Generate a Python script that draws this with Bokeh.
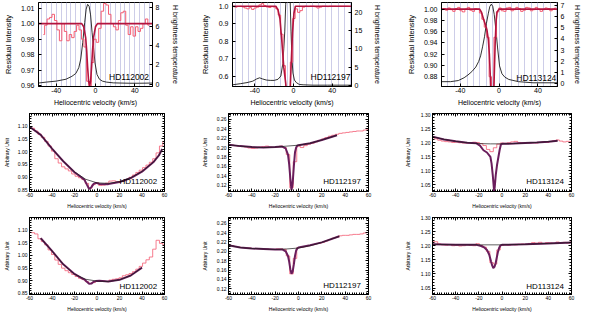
from bokeh.plotting import figure
from bokeh.models import (Range1d, LinearAxis, Label, FixedTicker, SingleIntervalTicker,
                          NumeralTickFormatter, CustomJSTickFormatter)
from bokeh.layouts import row, column
from bokeh.embed import file_html
from bokeh.resources import INLINE

FONT = "Liberation Sans"
RED = "#f45c72"
FIT_TOP = "#b3143f"
PURPLE = "#6a1d5c"
BLACK = "#1a1a1a"
GRID = "#cdcde8"

# ---------------- top row: residual intensity + HI brightness temperature -------------
names = ["HD112002", "HD112197", "HD113124"]
top_xticks = [-40, 0, 40]

t1_red_v = [-53, -50.5, -48, -45.5, -43, -40.5, -38, -35.5, -33, -30.5, -28, -25.5, -23, -20.5,
            -18, -15.5, -13, -10.5, -8, -5.5, -3, -0.5, 2, 4.5, 7, 9.5, 12, 14.5, 17, 19.5, 22,
            24.5, 27, 29.5, 32, 34.5, 37, 39.5, 42, 44.5, 47, 49.5, 52, 54.5]
t1_red_i = [0.993, 0.999, 1.003, 1.004, 1.006, 1.002, 0.996, 0.989, 1.000, 0.995, 0.989, 0.993,
            0.991, 0.995, 0.999, 0.996, 0.990, 0.985, 0.963, 0.960, 0.975, 0.990, 0.988, 0.997,
            1.008, 1.013, 1.012, 1.006, 1.000, 0.998, 0.996, 1.002, 1.007, 1.008, 0.999, 0.993,
            0.998, 0.992, 0.998, 0.995, 0.997, 1.000, 1.003, 0.999]
t1_fit_v = [-58, -14, -12, -10, -9, -8, -7, -6, -5, -4, -3, -2, 0, 2, 58]
t1_fit_i = [1.0, 1.0, 0.998, 0.991, 0.983, 0.972, 0.963, 0.960, 0.963, 0.972, 0.983, 0.991, 0.998, 1.0, 1.0]
t1_hi_v = [-58, -50, -40, -30, -24, -20, -17, -15, -13, -11, -9.5, -8, -6.5, -5, -3.5, -2, -0.5,
           1.5, 4, 7, 11, 18, 25, 35, 45, 58]
t1_hi_t = [0.1, 0.2, 0.3, 0.5, 0.8, 1.1, 1.7, 2.6, 4.3, 6.4, 7.8, 8.3, 8.1, 7.2, 5.4, 3.8, 2.2,
           1.0, 0.5, 0.3, 0.2, 0.12, 0.1, 0.08, 0.08, 0.1]
t1_yticks = [0.96, 0.97, 0.98, 0.99, 1.00, 1.01]
t1_tticks = [0, 2, 4, 6, 8]

t2_red_v = [-62, -59.5, -57, -54.5, -52, -49.5, -47, -44.5, -42, -39.5, -37, -34.5, -32, -29.5,
            -27, -24.5, -22, -19.5, -17, -14.5, -12, -9.5, -7, -4.5, -2, 0.5, 3, 5.5, 8, 10.5,
            13, 15.5, 18, 20.5, 23, 25.5, 28, 30.5, 33, 35.5, 38, 40.5, 43, 45.5, 48, 50.5, 53,
            55.5, 58]
t2_red_i = [0.998, 0.995, 0.999, 1.000, 0.996, 0.990, 0.985, 0.992, 0.982, 0.990, 0.995, 1.008,
            1.015, 1.004, 0.996, 0.993, 0.998, 0.995, 0.985, 0.950, 0.840, 0.660, 0.500, 0.450,
            0.680, 0.930, 0.985, 0.965, 0.975, 0.995, 1.000, 0.998, 1.000, 1.000, 0.997, 0.990,
            0.995, 1.000, 1.000, 0.998, 1.000, 1.000, 1.000, 0.999, 1.000, 1.000, 1.000, 1.000, 1.000]
t2_fit_v = [-63, -18, -16, -14, -12, -10, -8, -7, -5, -3.5, -2.5, -1, 0.5, 2, 60]
t2_fit_i = [1.0, 1.0, 0.98, 0.93, 0.80, 0.65, 0.56, 0.50, 0.40, 0.50, 0.65, 0.85, 0.96, 1.0, 1.0]
t2_hi_v = [-63, -55, -48, -42, -38, -35, -32, -28, -24, -20, -16, -13, -11, -10, -9, -8, -7, -5,
           -3.5, -2.5, -1.5, -0.5, 1, 3, 6, 10, 20, 35, 60]
t2_hi_t = [0.2, 0.5, 0.8, 1.2, 1.8, 2.1, 1.8, 1.5, 1.4, 1.4, 1.7, 2.6, 6.0, 10, 14.6, 22, 28, 30,
           24, 14.6, 7, 3.4, 1.5, 0.8, 0.3, 0.2, 0.1, 0.1, 0.1]
t2_yticks = [0.6, 0.7, 0.8, 0.9, 1.0]
t2_tticks = [0, 5, 10, 15, 20]

t3_red_v = [-59, -56.5, -54, -51.5, -49, -46.5, -44, -41.5, -39, -36.5, -34, -31.5, -29, -26.5,
            -24, -21.5, -19, -16.5, -14, -11.5, -9, -6.5, -4, -1.5, 1, 3.5, 6, 8.5, 11, 13.5, 16,
            18.5, 21, 23.5, 26, 28.5, 31, 33.5, 36, 38.5, 41, 43.5, 46, 48.5, 51, 53.5, 56, 58.5]
t3_red_i = [0.999, 1.001, 0.998, 1.002, 0.999, 0.996, 1.001, 1.003, 0.997, 0.995, 1.000, 1.003,
            0.998, 0.996, 1.001, 1.000, 0.993, 0.982, 0.968, 0.950, 0.880, 0.840, 0.950, 0.995,
            1.002, 0.997, 0.996, 1.002, 1.003, 0.997, 0.999, 1.003, 1.001, 0.996, 0.998, 1.003,
            1.002, 0.997, 0.999, 1.003, 1.000, 0.996, 0.999, 1.002, 1.001, 0.997, 1.000, 1.002]
t3_fit_v = [-60, -20, -18, -16, -14, -12.5, -11, -10, -9, -8, -7, -6, -5, -4, -3, -2, 0, 60]
t3_fit_i = [1.0, 1.0, 0.994, 0.982, 0.972, 0.963, 0.945, 0.92, 0.88, 0.83, 0.80, 0.83, 0.88,
            0.94, 0.98, 0.995, 1.0, 1.0]
t3_hi_v = [-59, -50, -42, -36, -32, -28, -24, -21, -19, -17, -15, -13, -11, -9.5, -8, -6.5, -5,
           -3, -1.5, 0.5, 3, 6, 10, 20, 35, 60]
t3_hi_t = [0.2, 0.2, 0.3, 0.55, 0.8, 1.1, 1.5, 2.0, 2.5, 3.3, 4.2, 5.4, 6.3, 6.9, 7.1, 6.9, 6.2,
           4.6, 3.2, 1.6, 0.9, 0.6, 0.4, 0.2, 0.1, 0.1]
t3_yticks = [0.88, 0.90, 0.92, 0.94, 0.96, 0.98, 1.00]
t3_tticks = [0, 1, 2, 3, 4, 5, 6, 7]

# ---------------- middle / bottom rows: spectra in arbitrary units -------------
chan_v = [-60, -57, -54, -51, -48, -45, -42, -39, -36, -33, -30, -27, -24, -21, -18, -15, -12,
          -9, -6, -3, 0, 3, 6, 9, 12, 15, 18, 21, 24, 27, 30, 33, 36, 39, 42, 45, 48, 51, 54, 57, 60]

m1_red = [1.093, 1.092, 1.081, 1.068, 1.056, 1.040, 1.022, 1.002, 0.972, 0.955, 0.940, 0.932,
          0.924, 0.912, 0.903, 0.897, 0.890, 0.875, 0.856, 0.870, 0.878, 0.867, 0.868, 0.876,
          0.884, 0.885, 0.882, 0.882, 0.884, 0.890, 0.899, 0.908, 0.918, 0.927, 0.937, 0.947,
          0.958, 0.972, 0.995, 1.022, 1.040]
m1_fit_v = [-60, -50, -40, -30, -20, -14, -11, -9, -7, -5, -3, -1, 2, 10, 20, 30, 40, 50, 55, 58]
m1_fit_i = [1.098, 1.066, 1.012, 0.962, 0.919, 0.899, 0.888, 0.870, 0.853, 0.860, 0.873, 0.877,
            0.873, 0.872, 0.880, 0.896, 0.921, 0.958, 0.985, 1.010]
m1_cont_v = [-60, -50, -40, -30, -20, -10, 0, 10, 20, 30, 40, 50, 55, 58]
m1_cont_i = [1.098, 1.066, 1.012, 0.962, 0.920, 0.891, 0.877, 0.875, 0.882, 0.897, 0.922, 0.958,
             0.985, 1.010]

b1_red = [1.092, 1.090, 1.085, 1.066, 1.055, 1.042, 1.022, 1.004, 0.982, 0.965, 0.950, 0.940,
          0.932, 0.925, 0.917, 0.910, 0.905, 0.897, 0.890, 0.893, 0.898, 0.901, 0.899, 0.897,
          0.903, 0.906, 0.908, 0.912, 0.920, 0.924, 0.929, 0.936, 0.946, 0.957, 0.970, 0.983,
          0.994, 1.025, 1.060, 1.048, 1.042]
b1_fit_v = [-50, -40, -30, -20, -14, -11, -9, -7, -5, -3, -1, 2, 10, 20, 30, 40]
b1_fit_i = [1.068, 1.018, 0.965, 0.927, 0.912, 0.905, 0.896, 0.888, 0.889, 0.896, 0.899, 0.900,
            0.897, 0.904, 0.921, 0.952]
b1_cont_v = [-50, -40, -30, -20, -10, 0, 10, 20, 30, 40]
b1_cont_i = [1.068, 1.018, 0.965, 0.926, 0.906, 0.899, 0.897, 0.904, 0.921, 0.952]

m2_red = [0.206, 0.205, 0.204, 0.203, 0.202, 0.201, 0.199, 0.198, 0.199, 0.201, 0.202, 0.203,
          0.201, 0.200, 0.201, 0.203, 0.200, 0.185, 0.115, 0.170, 0.203, 0.200, 0.204, 0.207,
          0.209, 0.212, 0.215, 0.218, 0.221, 0.224, 0.226, 0.228, 0.230, 0.231, 0.232, 0.233,
          0.234, 0.235, 0.235, 0.237, 0.238]
m2_fit_v = [-60, -50, -40, -30, -20, -14, -11, -9, -8, -7, -6, -5, -4, -3, -2, -1, 0, 10, 20, 33]
m2_fit_i = [0.206, 0.203, 0.201, 0.200, 0.201, 0.202, 0.198, 0.185, 0.165, 0.135, 0.110, 0.125,
            0.160, 0.190, 0.200, 0.204, 0.205, 0.209, 0.216, 0.226]
m2_cont_v = [-60, -50, -40, -30, -20, -10, 0, 10, 20, 33]
m2_cont_i = [0.206, 0.203, 0.201, 0.200, 0.201, 0.203, 0.205, 0.209, 0.216, 0.226]

b2_red = [0.214, 0.212, 0.210, 0.209, 0.208, 0.207, 0.207, 0.206, 0.206, 0.206, 0.205, 0.205,
          0.204, 0.204, 0.205, 0.205, 0.204, 0.190, 0.152, 0.185, 0.208, 0.209, 0.210, 0.212,
          0.214, 0.216, 0.217, 0.219, 0.222, 0.225, 0.228, 0.230, 0.233, 0.234, 0.234, 0.235,
          0.236, 0.236, 0.237, 0.239, 0.240]
b2_fit_v = [-60, -50, -40, -30, -20, -14, -11, -9, -8, -7, -6, -5, -4, -3, -2, -1, 0, 10, 20, 35]
b2_fit_i = [0.213, 0.208, 0.206, 0.205, 0.204, 0.204, 0.200, 0.190, 0.178, 0.162, 0.152, 0.157,
            0.172, 0.190, 0.202, 0.206, 0.208, 0.213, 0.219, 0.232]
b2_cont_v = [-60, -50, -40, -30, -20, -10, 0, 10, 20, 35]
b2_cont_i = [0.213, 0.208, 0.206, 0.205, 0.204, 0.205, 0.207, 0.212, 0.219, 0.232]

m3_red = [1.221, 1.214, 1.209, 1.206, 1.204, 1.203, 1.201, 1.202, 1.200, 1.199, 1.199, 1.200,
          1.202, 1.201, 1.197, 1.190, 1.176, 1.168, 1.182, 1.195, 1.199, 1.198, 1.200, 1.203,
          1.205, 1.201, 1.200, 1.201, 1.199, 1.200, 1.199, 1.201, 1.203, 1.201, 1.204, 1.207,
          1.210, 1.206, 1.203, 1.205, 1.204]
m3_fit_v = [-60, -50, -40, -30, -22, -19, -16, -13, -10, -9, -8, -7.3, -6.8, -6.3, -5.4, -4.3,
            -3.1, -2, -1, 0, 10, 20, 30, 40, 48]
m3_fit_i = [1.222, 1.212, 1.205, 1.200, 1.198, 1.190, 1.173, 1.165, 1.149, 1.125, 1.085, 1.050,
            1.025, 1.040, 1.084, 1.120, 1.149, 1.175, 1.193, 1.196, 1.197, 1.199, 1.201, 1.204, 1.207]
m3_cont_v = [-60, -50, -40, -30, -20, -10, 0, 10, 20, 30, 40, 48]
m3_cont_i = [1.222, 1.212, 1.205, 1.200, 1.197, 1.196, 1.196, 1.197, 1.199, 1.201, 1.204, 1.207]

b3_red = [1.216, 1.214, 1.206, 1.203, 1.202, 1.204, 1.200, 1.201, 1.199, 1.200, 1.203, 1.201,
          1.200, 1.207, 1.201, 1.195, 1.180, 1.140, 1.135, 1.185, 1.201, 1.203, 1.202, 1.204,
          1.203, 1.205, 1.206, 1.204, 1.208, 1.211, 1.209, 1.212, 1.208, 1.211, 1.210, 1.208,
          1.213, 1.210, 1.212, 1.209, 1.213]
b3_fit_v = [-60, -40, -22, -18, -15, -13, -11, -9.5, -8.5, -7.5, -6.5, -5.5, -4.5, -3.5, -2.5,
            -1.5, 0, 20, 40, 60]
b3_fit_i = [1.205, 1.203, 1.203, 1.199, 1.193, 1.185, 1.168, 1.145, 1.130, 1.121, 1.125, 1.138,
            1.158, 1.178, 1.192, 1.200, 1.203, 1.205, 1.208, 1.211]
b3_cont_v = [-60, -40, -20, 0, 20, 40, 60]
b3_cont_i = [1.205, 1.203, 1.203, 1.203, 1.205, 1.208, 1.211]

XLABEL = "Heliocentric velocity (km/s)"
RLABEL = "H brightness temperature"


def base(w, h, l, r, t, b, xr, yr):
    p = figure(width=w, height=h, min_border_left=l, min_border_right=r, min_border_top=t,
               min_border_bottom=b, x_range=Range1d(*xr), y_range=Range1d(*yr),
               output_backend="svg", toolbar_location=None, tools="")
    p.outline_line_color = "black"
    p.outline_line_width = 1
    p.background_fill_color = "white"
    p.border_fill_color = "white"
    p.grid.visible = False
    return p


def style(ax, size, standoff, label=None, lsize=None, lstand=None, tin=3, minin=0):
    ax.major_tick_in = tin
    ax.major_tick_out = 0
    ax.minor_tick_in = minin
    ax.minor_tick_out = 0
    ax.axis_line_color = "black"
    ax.major_tick_line_color = "black"
    ax.minor_tick_line_color = "black" if minin else None
    ax.major_label_text_font = FONT
    ax.major_label_text_font_size = f"{size}px"
    ax.major_label_text_color = "black"
    ax.major_label_standoff = standoff
    if label:
        ax.axis_label = label
        ax.axis_label_text_font = FONT
        ax.axis_label_text_font_size = f"{lsize}px"
        ax.axis_label_text_font_style = "normal"
        ax.axis_label_text_color = "black"
        ax.axis_label_standoff = lstand


def top_panel(w, l, r, xr, yr, tr, yticks, tticks, yfmt, gint, red_v, red_i, fit_v, fit_i,
              hi_v, hi_t, name, lx, ly, ystand, rstand):
    p = base(w, 108, l, r, 2, 22, xr, yr)
    p.extra_y_ranges = {"tb": Range1d(*tr)}
    g = p.xgrid[0]
    g.visible = True
    g.ticker = SingleIntervalTicker(interval=gint)
    g.grid_line_color = GRID
    g.grid_line_width = 1
    p.line(hi_v, hi_t, y_range_name="tb", color=BLACK, line_width=0.9)
    p.step(red_v, red_i, mode="center", color=RED, line_width=1)
    p.line(fit_v, fit_i, color=FIT_TOP, line_width=1.6)
    xa = p.xaxis[0]
    xa.ticker = FixedTicker(ticks=top_xticks)
    xa.formatter = NumeralTickFormatter(format="0")
    style(xa, 7, 1, XLABEL, 7, 3)
    ya = p.yaxis[0]
    ya.ticker = FixedTicker(ticks=yticks)
    ya.formatter = NumeralTickFormatter(format=yfmt)
    style(ya, 7, 4, "Residual Intensity", 7.5, ystand)
    ra = LinearAxis(y_range_name="tb", ticker=FixedTicker(ticks=tticks),
                    formatter=NumeralTickFormatter(format="0"))
    style(ra, 7, 3, RLABEL, 7, rstand)
    p.add_layout(ra, "right")
    p.add_layout(Label(x=lx, y=ly, text=name, text_align="right", text_baseline="middle",
                       text_font=FONT, text_font_size="8.5px", text_color="black"))
    return p


def low_panel(w, h, l, r, t, yr, yint, yminor, yfmt, red_i, fit_v, fit_i, cont_v, cont_i,
              name, ly, ystand):
    p = base(w, h, l, r, t, 16, (-60, 60), yr)
    p.step(chan_v, red_i, mode="center", color=RED, line_width=0.8)
    p.line(fit_v, fit_i, color=PURPLE, line_width=2)
    p.line(cont_v, cont_i, color=BLACK, line_width=0.7)
    xa = p.xaxis[0]
    xa.ticker = SingleIntervalTicker(interval=20, num_minor_ticks=10)
    xa.formatter = NumeralTickFormatter(format="0")
    style(xa, 5, 1, XLABEL, 5, 3, tin=3, minin=2)
    ya = p.yaxis[0]
    ya.ticker = SingleIntervalTicker(interval=yint, num_minor_ticks=yminor)
    ya.formatter = NumeralTickFormatter(format=yfmt)
    style(ya, 5, 2, "Arbitrary Unit", 5, ystand, tin=3, minin=2)
    ta = LinearAxis(ticker=SingleIntervalTicker(interval=20, num_minor_ticks=10),
                    formatter=CustomJSTickFormatter(code="return ''"))
    style(ta, 1, 0, tin=3, minin=2)
    p.add_layout(ta, "above")
    rta = LinearAxis(ticker=SingleIntervalTicker(interval=yint, num_minor_ticks=yminor),
                     formatter=CustomJSTickFormatter(code="return ''"))
    style(rta, 1, 0, tin=3, minin=2)
    p.add_layout(rta, "right")
    p.add_layout(Label(x=53.5, y=ly, text=name, text_align="right", text_baseline="middle",
                       text_font=FONT, text_font_size="8px", text_color="black"))
    return p


f1 = top_panel(192, 32, 40, (-58, 58), (0.9596, 1.0136), (-0.26, 8.49), t1_yticks, t1_tticks,
               "0.00", 5, t1_red_v, t1_red_i, t1_fit_v, t1_fit_i, t1_hi_v, t1_hi_t, names[0],
               54.5, 0.966, 5, 10)
f2 = top_panel(202, 40, 43, (-63, 60), (0.5405, 1.0216), (-0.26, 22.6), t2_yticks, t2_tticks,
               "0.0", 6.6, t2_red_v, t2_red_i, t2_fit_v, t2_fit_i, t2_hi_v, t2_hi_t, names[1],
               59, 0.5946, 6, 9)
f3 = top_panel(190, 47, 25, (-59.3, 60.2), (0.8627, 1.0117), (-0.23, 7.25), t3_yticks, t3_tticks,
               "0.00", 6.6, t3_red_v, t3_red_i, t3_fit_v, t3_fit_i, t3_hi_v, t3_hi_t, names[2],
               59, 0.878, 5, 7)

f4 = low_panel(195, 103, 25, 31, 5, (0.843, 1.15), 0.05, 5, "0.00", m1_red, m1_fit_v, m1_fit_i,
               m1_cont_v, m1_cont_i, names[0], 0.882, 5)
f5 = low_panel(204, 103, 33, 31, 5, (0.107, 0.272), 0.02, 4, "0.00", m2_red, m2_fit_v, m2_fit_i,
               m2_cont_v, m2_cont_i, names[1], 0.1277, 6)
f6 = low_panel(185, 103, 33, 13, 5, (1.025, 1.305), 0.05, 5, "0.00", m3_red, m3_fit_v, m3_fit_i,
               m3_cont_v, m3_cont_i, names[2], 1.060, 7)

f7 = low_panel(195, 103, 25, 31, 6, (0.846, 1.15), 0.05, 5, "0.00", b1_red, b1_fit_v, b1_fit_i,
               b1_cont_v, b1_cont_i, names[0], 0.8786, 5)
f8 = low_panel(204, 103, 33, 31, 6, (0.108, 0.272), 0.02, 4, "0.00", b2_red, b2_fit_v, b2_fit_i,
               b2_cont_v, b2_cont_i, names[1], 0.1276, 6)
f9 = low_panel(185, 103, 33, 13, 6, (1.027, 1.30), 0.05, 5, "0.00", b3_red, b3_fit_v, b3_fit_i,
               b3_cont_v, b3_cont_i, names[2], 1.055, 7)

layout = column(row(f1, f2, f3), row(f4, f5, f6), row(f7, f8, f9))

open("out.html", "w").write(file_html(layout, INLINE))
